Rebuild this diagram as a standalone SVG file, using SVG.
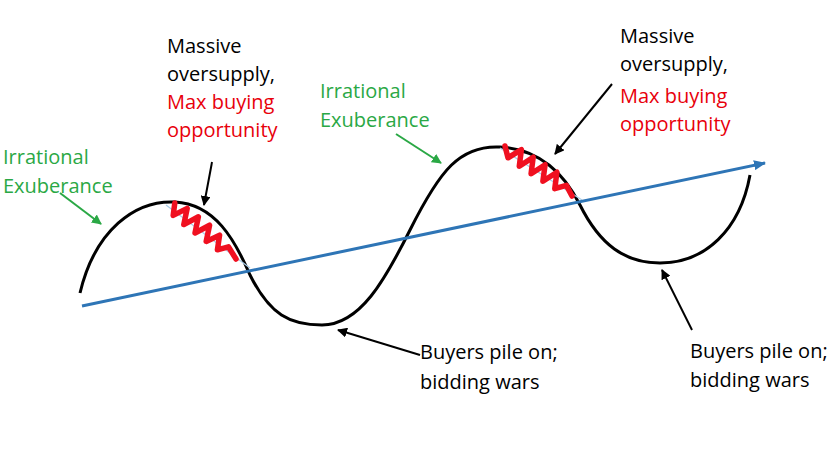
<svg xmlns="http://www.w3.org/2000/svg" width="837" height="449" viewBox="0 0 837 449">
<style>
text{font-family:"Open Sans","Liberation Sans",sans-serif;font-size:20px}
.k{fill:#000}.r{fill:#e8000b}.g{fill:#2aa845}
.ak{stroke:#000;stroke-width:2;fill:none;marker-end:url(#mk)}
.ag{stroke:#2aa845;stroke-width:2;fill:none;marker-end:url(#mg)}
.sq{stroke:#f01020;stroke-width:5.5;fill:none;stroke-linecap:round;stroke-linejoin:round}
.ch{stroke:#a8cce8;stroke-width:1.2}
</style>
<defs>
<marker id="mk" markerWidth="10" markerHeight="10" refX="9" refY="5" orient="auto" markerUnits="userSpaceOnUse"><path d="M0,0 L10,5 L0,10 Z" fill="#000"/></marker>
<marker id="mg" markerWidth="10" markerHeight="10" refX="9" refY="5" orient="auto" markerUnits="userSpaceOnUse"><path d="M0,0 L10,5 L0,10 Z" fill="#2aa845"/></marker>
<marker id="mb" markerWidth="12" markerHeight="10" refX="11" refY="5" orient="auto" markerUnits="userSpaceOnUse"><path d="M0,0 L12,5 L0,10 Z" fill="#2e75b6"/></marker>
</defs>
<rect width="837" height="449" fill="#fff"/>
<g id="curve">
<path d="M80,293 C95,230 135,200 175,202 C215,204 235,240 250,275 C270,315 290,325 322,325 C360,325 385,280 410,230 C440,170 460,145 500,147 C540,149 565,175 580,205 C600,245 625,263 660,263 C705,263 740,230 750,175" stroke="#000" stroke-width="3" fill="none"/>
</g>
<g id="squiggles">
<line class="ch" x1="166" y1="205" x2="250" y2="268"/>
<polyline class="sq" points="174.8,203 173.2,215.4 187.2,208.4 183.8,224.6 198.4,216.8 195,233 209.6,225.2 206.2,241.4 219.6,235.2 217.4,249.8 228.4,246.8 236,259"/>
<line class="ch" x1="500" y1="148" x2="582" y2="200"/>
<polyline class="sq" points="505,146 508,157.8 521.4,149.7 519.3,166.2 533.2,157.2 531.1,173.7 545.1,164.7 542.9,181.2 556.9,172.2 554.8,188.7 566.4,185.4 572,196"/>
</g>
<g id="trend">
<line x1="82" y1="306" x2="765" y2="163" stroke="#2e75b6" stroke-width="3" marker-end="url(#mb)"/>
</g>
<g id="connectors">
<line class="ak" x1="212" y1="162" x2="204" y2="205"/>
<line class="ak" x1="612" y1="84" x2="555" y2="154"/>
<line class="ag" x1="60" y1="193" x2="101" y2="224"/>
<line class="ag" x1="396" y1="134" x2="441" y2="163"/>
<line class="ak" x1="420" y1="355" x2="338" y2="330"/>
<line class="ak" x1="692" y1="330" x2="662" y2="270"/>
</g>
<g id="label-top1">
<text class="k" x="167" y="53">Massive</text>
<text class="k" x="167" y="81">oversupply,</text>
<text class="r" x="167" y="109">Max buying</text>
<text class="r" x="167" y="137">opportunity</text>
</g>
<g id="label-top2">
<text class="k" x="620" y="43">Massive</text>
<text class="k" x="620" y="71">oversupply,</text>
<text class="r" x="620" y="103">Max buying</text>
<text class="r" x="620" y="131">opportunity</text>
</g>
<g id="label-ex1">
<text class="g" x="3" y="164">Irrational</text>
<text class="g" x="3" y="193">Exuberance</text>
</g>
<g id="label-ex2">
<text class="g" x="320" y="98">Irrational</text>
<text class="g" x="320" y="127">Exuberance</text>
</g>
<g id="label-buy1">
<text class="k" x="420" y="359">Buyers pile on;</text>
<text class="k" x="420" y="389">bidding wars</text>
</g>
<g id="label-buy2">
<text class="k" x="690" y="358">Buyers pile on;</text>
<text class="k" x="690" y="387">bidding wars</text>
</g>
</svg>
